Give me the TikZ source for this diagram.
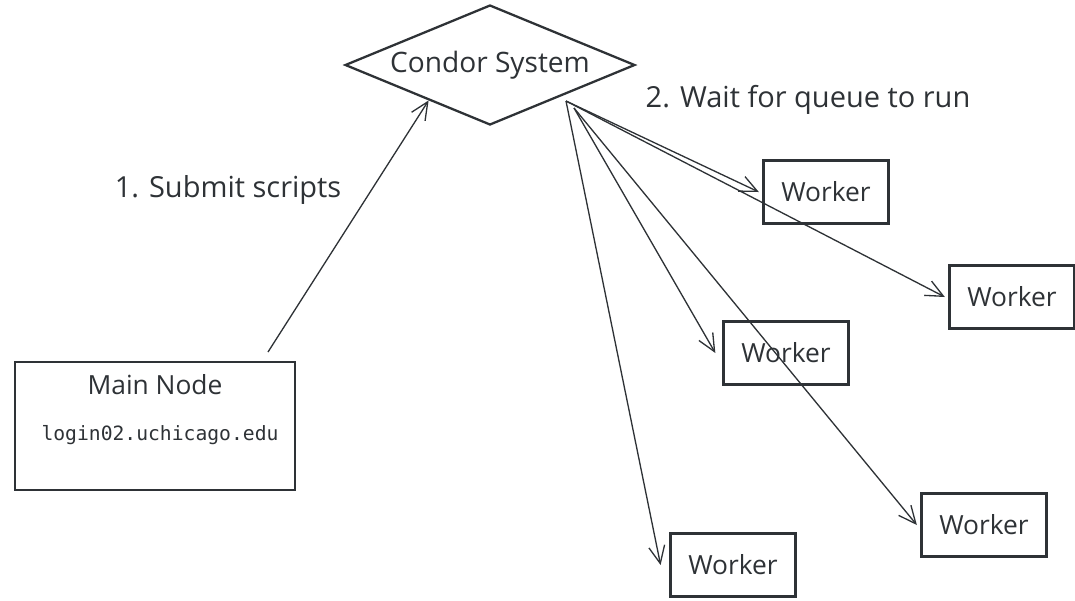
\documentclass[tikz,border=0pt]{standalone}
\usepackage{fontspec}
\setmainfont{Open Sans}
\setmonofont{DejaVu Sans Mono}
\usetikzlibrary{shapes.geometric,arrows.meta}
\definecolor{ink}{HTML}{2E3236}
\begin{document}
\begin{tikzpicture}[x=0.02cm,y=-0.02cm,
  box/.style={draw=ink,line width=1.3pt,minimum width=2.5cm,minimum height=1.26cm,inner sep=0pt},
  hand/.style={text=ink,font=\fontsize{15}{18}\selectfont},
  note/.style={text=ink,font=\fontsize{16.5}{20}\selectfont},
  flow/.style={draw=ink,line width=0.75pt,-{Straight Barb[length=3.5mm,width=3.2mm]}}]
  \useasboundingbox (0,0) rectangle (1075,600);
  % condor system
  \node[draw=ink,line width=1.3pt,diamond,aspect=2.4,inner sep=0pt,
        minimum width=5.8cm,minimum height=2.4cm,hand,font=\fontsize{16}{19}\selectfont]
        (condor) at (490,65) {Condor System};
  % main node
  \node[box,minimum width=5.6cm,minimum height=2.56cm] (main) at (155,426) {};
  \node[hand] (mainlbl) at (155,385) {Main Node};
  \node[text=ink,font=\ttfamily\fontsize{11.2}{13}\selectfont] (host) at (160,435) {login02.uchicago.edu};
  % workers
  \node[box,hand] (w1) at (826,192) {Worker};
  \node[box,hand] (w2) at (1012,297) {Worker};
  \node[box,hand] (w3) at (786,353) {Worker};
  \node[box,hand] (w4) at (984,525) {Worker};
  \node[box,hand] (w5) at (733,565) {Worker};
  % labels
  \node[note] (submit) at (228,190) {1. Submit scripts};
  \node[note] (wait) at (808,100) {2. Wait for queue to run};
  % arrows
  \coordinate (up) at (268,352);
  \coordinate (fan) at (566,101);
  \coordinate (fanb) at (574,108);
  \draw[flow] (up) -- (condor.-150);
  \draw[flow] (fan) -- ([xshift=-2pt]w1.west);
  \draw[flow] (fan) -- ([xshift=-2pt]w2.west);
  \draw[flow] (fanb) -- ([xshift=-4pt]w3.west);
  \draw[flow] (fanb) -- ([xshift=-2pt]w4.west);
  \draw[flow] (fan) -- ([xshift=-5pt]w5.west);
\end{tikzpicture}
\end{document}
